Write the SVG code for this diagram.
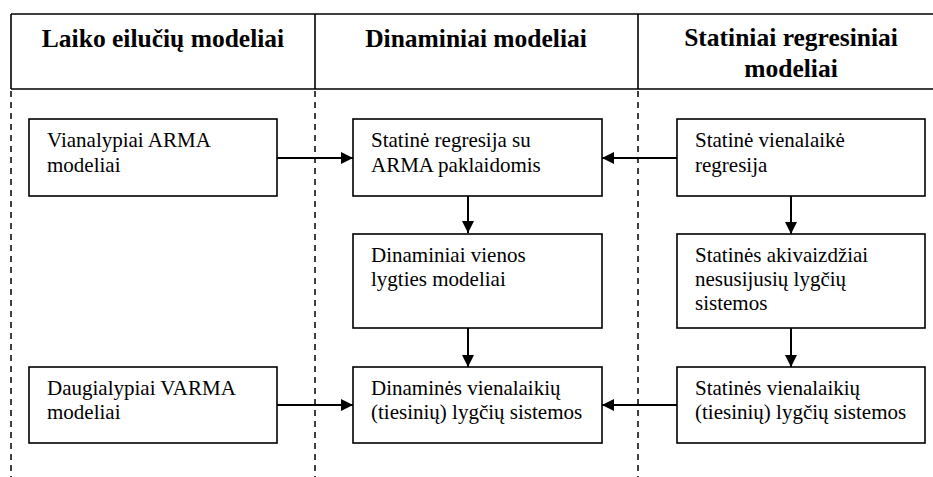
<svg xmlns="http://www.w3.org/2000/svg" width="933" height="477" viewBox="0 0 933 477">
<defs>
<style>
text{font-family:'Liberation Serif','Times New Roman',serif;fill:#000}
.hdr{font-weight:bold;font-size:25.5px;text-anchor:middle}
.t{font-size:21px}
.box{fill:#fff;stroke:#000;stroke-width:1.6}
.sep{stroke:#000;stroke-width:1.5;stroke-dasharray:6 5;fill:none}
.rule{stroke:#000;stroke-width:1.6;fill:none}
.conn{stroke:#000;stroke-width:2;fill:none;marker-end:url(#ah)}
</style>
<marker id="ah" markerWidth="12" markerHeight="12" refX="12" refY="6" orient="auto" markerUnits="userSpaceOnUse">
<path d="M0,0 L12,6 L0,12 Z" fill="#000"/>
</marker>
</defs>
<rect width="933" height="477" fill="#fff"/>
<g id="header">
<line class="rule" x1="11" y1="14" x2="933" y2="14"/>
<line class="rule" x1="11" y1="89" x2="933" y2="89"/>
<line class="rule" x1="11" y1="14" x2="11" y2="89"/>
<line class="rule" x1="315" y1="14" x2="315" y2="89"/>
<line class="rule" x1="638" y1="14" x2="638" y2="89"/>
<text class="hdr" x="163" y="47">Laiko eilučių modeliai</text>
<text class="hdr" x="476" y="47">Dinaminiai modeliai</text>
<text class="hdr" x="791" y="46">Statiniai regresiniai</text>
<text class="hdr" x="791" y="77">modeliai</text>
</g>
<g id="separators">
<line class="sep" x1="11" y1="91" x2="11" y2="477"/>
<line class="sep" x1="315" y1="91" x2="315" y2="477"/>
<line class="sep" x1="638" y1="91" x2="638" y2="477"/>
</g>
<g id="connectors">
<line class="conn" x1="277" y1="158" x2="353" y2="158"/>
<line class="conn" x1="677" y1="158" x2="602" y2="158"/>
<line class="conn" x1="468" y1="196" x2="468" y2="233"/>
<line class="conn" x1="791" y1="196" x2="791" y2="234"/>
<line class="conn" x1="468" y1="328" x2="468" y2="367"/>
<line class="conn" x1="791" y1="328" x2="791" y2="367"/>
<line class="conn" x1="277" y1="405" x2="353" y2="405"/>
<line class="conn" x1="677" y1="405" x2="602" y2="405"/>
</g>
<g id="n-vianalypiai">
<rect class="box" x="29" y="119" width="248" height="77"/>
<text class="t" x="47" y="147">Vianalypiai ARMA</text>
<text class="t" x="47" y="172">modeliai</text>
</g>
<g id="n-statine-regresija">
<rect class="box" x="353" y="119" width="249" height="77"/>
<text class="t" x="371" y="147">Statinė regresija su</text>
<text class="t" x="371" y="172">ARMA paklaidomis</text>
</g>
<g id="n-statine-vienalaike">
<rect class="box" x="677" y="119" width="248" height="77"/>
<text class="t" x="695" y="147">Statinė vienalaikė</text>
<text class="t" x="695" y="172">regresija</text>
</g>
<g id="n-dinaminiai-vienos">
<rect class="box" x="353" y="234" width="249" height="94"/>
<text class="t" x="371" y="262">Dinaminiai vienos</text>
<text class="t" x="371" y="286">lygties modeliai</text>
</g>
<g id="n-statines-akivaizdziai">
<rect class="box" x="677" y="234" width="248" height="94"/>
<text class="t" x="695" y="262">Statinės akivaizdžiai</text>
<text class="t" x="695" y="286">nesusijusių lygčių</text>
<text class="t" x="695" y="310">sistemos</text>
</g>
<g id="n-daugialypiai">
<rect class="box" x="29" y="367" width="248" height="76"/>
<text class="t" x="47" y="395">Daugialypiai VARMA</text>
<text class="t" x="47" y="419">modeliai</text>
</g>
<g id="n-dinamines-vienalaikiu">
<rect class="box" x="353" y="367" width="249" height="76"/>
<text class="t" x="371" y="395">Dinaminės vienalaikių</text>
<text class="t" x="371" y="419">(tiesinių) lygčių sistemos</text>
</g>
<g id="n-statines-vienalaikiu">
<rect class="box" x="677" y="367" width="248" height="76"/>
<text class="t" x="695" y="395">Statinės vienalaikių</text>
<text class="t" x="695" y="419">(tiesinių) lygčių sistemos</text>
</g>
</svg>
